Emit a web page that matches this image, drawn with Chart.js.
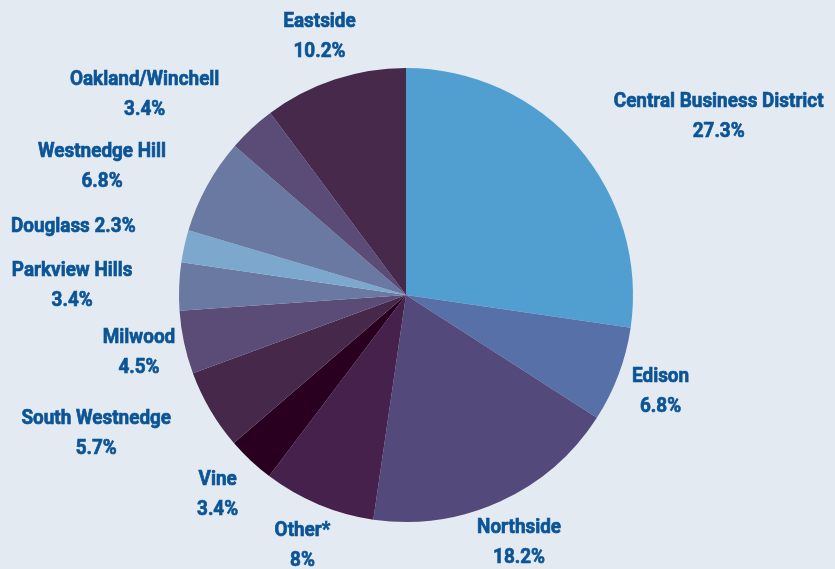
<!DOCTYPE html>
<html>
<head>
<meta charset="utf-8">
<script src="https://cdn.jsdelivr.net/npm/chart.js"></script>
<style>
  html, body { margin: 0; padding: 0; background: #e3eaf1; }
  #wrap { width: 835px; height: 569px; }
</style>
</head>
<body>
<div id="wrap"><canvas id="pieChart" width="835" height="569"></canvas></div>
<script>
// Neighborhood shares, clockwise from 12 o'clock
const neighborhoods = [
    "Central Business District", "Edison", "Northside", "Other*", "Vine",
    "South Westnedge", "Milwood", "Parkview Hills", "Douglass",
    "Westnedge Hill", "Oakland/Winchell", "Eastside"
];
const shares = [27.3, 6.8, 18.2, 8, 3.4, 5.7, 4.5, 3.4, 2.3, 6.8, 3.4, 10.2];
const shareLabels = ["27.3%", "6.8%", "18.2%", "8%", "3.4%", "5.7%", "4.5%", "3.4%", "2.3%", "6.8%", "3.4%", "10.2%"];

const sliceColors = [
    "#519fd0", "#5771a8", "#534a7b", "#45214b", "#2a0020", "#45284a",
    "#5a4c76", "#6a79a2", "#7ca8cd", "#6a79a2", "#5a4c76", "#46294b"
];

// label nudges from the slice's outer-edge midpoint (dx, dy); Douglass sits on one line
const labelNudge = [
    [141, -30], [42, 17], [19, 41], [-16, 41], [-33, 34], [-114, 24],
    [-45, 10], [-107, -1], [-111, -19], [-105, -19], [-107, -34], [-15, -43]
];
const singleLine = [false, false, false, false, false, false, false, false, true, false, false, false];

const labelPlugin = {
    id: "sliceLabels",
    afterDatasetsDraw(chart) {
        const ctx = chart.ctx;
        const meta = chart.getDatasetMeta(0);
        ctx.save();
        ctx.fillStyle = "#0b5496";
        ctx.strokeStyle = "#0b5496";
        ctx.lineWidth = 0.7;
        ctx.font = "bold 21px Roboto";
        ctx.textAlign = "center";
        ctx.textBaseline = "middle";
        meta.data.forEach((arc, i) => {
            const p = arc.getProps(["x", "y", "startAngle", "endAngle", "outerRadius"], true);
            const mid = (p.startAngle + p.endAngle) / 2;
            const x = p.x + Math.cos(mid) * p.outerRadius + labelNudge[i][0];
            const y = p.y + Math.sin(mid) * p.outerRadius + labelNudge[i][1];
            const lines = singleLine[i]
                ? [neighborhoods[i] + " " + shareLabels[i]]
                : [neighborhoods[i], shareLabels[i]];
            const top = y - (lines.length - 1) * 15;
            lines.forEach((t, k) => {
                ctx.save();
                ctx.translate(x, top + k * 30);
                ctx.scale(0.9, 1); // squeeze to look like a condensed face
                ctx.fillText(t, 0, 0);
                ctx.strokeText(t, 0, 0);
                ctx.restore();
            });
        });
        ctx.restore();
    }
};

new Chart(document.getElementById("pieChart"), {
    type: "pie",
    data: {
        labels: neighborhoods,
        datasets: [{
            data: shares,
            backgroundColor: sliceColors,
            borderWidth: 0
        }]
    },
    options: {
        responsive: false,
        animation: false,
        layout: { padding: { top: 68, bottom: 47, left: 179, right: 202 } },
        plugins: {
            legend: { display: false },
            tooltip: { enabled: false }
        }
    },
    plugins: [labelPlugin]
});
</script>
</body>
</html>
